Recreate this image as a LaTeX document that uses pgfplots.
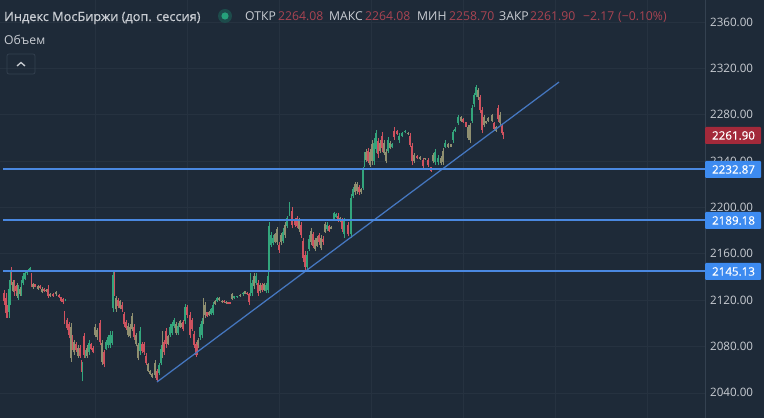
\documentclass[border=0pt]{standalone}
\usepackage{pgfplots}
\usepackage{pgfplotstable}
\usepackage{fontspec}
\pgfplotsset{compat=1.18}
\setmainfont{Open Sans}
\newfontfamily\boldish[FakeBold=0.5]{Open Sans}
\definecolor{bg}{HTML}{1E2A38}
\definecolor{gridc}{HTML}{263240}
\definecolor{axc}{HTML}{344150}
\definecolor{txt}{HTML}{C9CDD3}
\definecolor{redt}{HTML}{A94452}
\definecolor{upc}{HTML}{33A57C}
\definecolor{dnc}{HTML}{CF525F}
\definecolor{mixc}{HTML}{8F8F70}
\definecolor{hline}{HTML}{4A88E0}
\definecolor{trend}{HTML}{4577C0}
\definecolor{tagb}{HTML}{3D8BF0}
\definecolor{tagr}{HTML}{A3293A}
\definecolor{halo}{HTML}{1D4B4B}
\definecolor{dotc}{HTML}{26A17B}
\pgfplotstableread{
x h l o c
9 2137 2105 2110 2130
10.5 2146 2116 2120 2140
18.5 2133 2120 2123 2130
21.5 2137 2124 2127 2134
23 2143 2133 2135 2141
25 2144 2137 2138 2143
27 2146 2142 2143 2145
29 2148 2144 2145 2147
30 2149 2146 2147 2148
65.5 2121 2119 2119.5 2120.5
82.5 2067 2050 2053 2063
85.5 2077 2070 2071 2075
89 2086 2073 2075 2083
106 2086 2077 2078 2084
108 2090 2079 2081 2088
110 2093 2079 2081 2090
112 2093 2081 2083 2090
113 2146 2110 2113 2142
140 2097 2073 2076 2093
159 2066 2055 2057 2064
161 2081 2064 2066 2078
170 2099 2088 2090 2097
172 2101 2090 2092 2099
174 2105 2096 2098 2103
178 2100 2090 2092 2098
185 2117 2099 2102 2114
200 2099 2086 2088 2097
202 2105 2087 2090 2102
211 2113 2107 2108 2112
213 2118 2107 2109 2116
217 2123 2118 2119 2122
234 2124 2121 2122 2123.5
237 2124 2122 2122.5 2123.5
243 2127 2124 2125 2126.5
250.5 2143 2124 2127 2140
252 2137 2124 2126 2135
256 2143 2133 2135 2141
266 2135 2126 2128 2133
268 2144 2126 2129 2141
269 2187 2144 2146 2184
271 2179 2166 2168 2176
273 2176 2168 2169 2174
283 2182 2169 2171 2179
287 2193 2182 2184 2191
289.5 2205 2193 2195 2203
307 2162 2146 2149 2159
309 2176 2162 2164 2173
327 2187 2180 2181 2185
334 2196 2189 2190 2195
336 2195 2191 2192 2194
344 2191 2174 2177 2188
351 2212 2174 2177 2208
353 2218 2208 2210 2216
363 2235 2215 2217 2232
364.5 2248 2235 2237 2246
374 2260 2237 2240 2256
376 2267 2247 2250 2264
388 2261 2247 2249 2258
392 2256 2251 2252 2255
399 2264 2256 2258 2262
402 2265 2261 2262 2264
405 2267 2264 2265 2266
435 2250 2237 2239 2248
438 2245 2237 2239 2243
445 2258 2251 2252 2256
453 2267 2256 2258 2265
455 2269 2265 2266 2268
458 2280 2271 2273 2278
472 2288 2273 2275 2286
474 2299 2287 2289 2297
476 2306 2295 2297 2304
}\upcandles
\pgfplotstableread{
x h l o c
4 2129 2116 2126 2119
6 2126 2105 2122 2109
7.5 2116 2105 2114 2107
11.5 2149 2133 2146 2136
14.5 2137 2124 2135 2126
16 2133 2126 2132 2128
31.5 2143 2131 2141 2133
35 2134 2131 2133.5 2131.5
40 2133 2130 2132.5 2130.5
44 2130.5 2127 2130 2127.5
48 2133 2122 2130 2124
53 2126 2123 2125.5 2123.5
59 2125 2122 2124.5 2122.5
61 2123 2118.5 2122.5 2119
63 2122 2117 2121 2118
64.5 2111 2099 2109 2101
67 2105 2094 2103 2096
69 2101 2087 2099 2090
72.5 2090 2077 2088 2079
76 2084 2075 2082 2077
80 2081 2070 2079 2072
81.5 2068 2058 2066 2060
84 2092 2070 2089 2073
91 2083 2077 2082 2078
93 2080 2074 2079 2075
100 2103 2081 2100 2084
104 2077 2062 2075 2065
114.5 2144 2124 2141 2127
118 2122 2113 2120 2115
122 2118 2110 2116 2112
124 2110 2097 2108 2099
126 2103 2094 2101 2096
134 2099 2086 2097 2088
142 2084 2074 2082 2076
144 2084 2073 2082 2075
146 2074 2064 2072 2066
157 2061 2049 2059 2051
164 2086 2073 2084 2075
166 2096 2079 2093 2082
183 2103 2093 2101 2095
187 2116 2105 2114 2107
190 2110 2087 2107 2090
192 2105 2093 2103 2095
194 2093 2079 2091 2081
196 2084 2071 2082 2073
197 2081 2073 2079 2075
207 2110 2105.5 2109.5 2106
224 2120 2117.5 2119.5 2118
228 2118.5 2116.5 2118 2117
230 2118.5 2116.5 2118 2117
247 2127 2124.5 2126.5 2125
249 2126 2116 2125 2118
258 2137 2124 2135 2126
262 2135 2127 2133 2129
279 2170 2161 2168 2163
292 2200 2182 2197 2185
295 2191 2183 2190 2185
297 2193 2182 2191 2184
301 2187 2174 2185 2176
303 2174 2153 2171 2156
305 2162 2146 2159 2149
313 2179 2165 2177 2167
319 2178 2168 2176 2170
323 2175 2168 2173 2170
329 2185 2179 2184 2180
338 2195 2187 2193 2189
342 2191 2179 2189 2181
348 2187 2175 2185 2177
359 2219 2211 2218 2213
368 2251 2238 2249 2240
378 2260 2243 2257 2246
382 2265 2248 2262 2251
394 2269 2258 2266 2261
397 2267 2262.5 2266 2263
410 2264 2252 2262 2254
412 2256 2237 2253 2240
417 2245 2242 2244.5 2242.5
423 2243 2234 2241 2236
428 2243 2235 2241 2237
431 2235 2231 2234.5 2231.5
463 2277 2273 2276.5 2273.5
466 2274 2269 2273.5 2269.5
480 2297 2281.5 2295 2284
482 2287 2264 2284 2267
494 2274 2267 2273 2268
498 2288 2274 2286 2276
502 2271 2262.5 2270 2264
503.5 2265 2258.7 2264.08 2261.9
}\downcandles
\pgfplotstableread{
x h l o c
13 2137 2127 2128 2136
17 2135 2122 2124 2133
20 2131 2124 2125 2130
33 2135 2130 2131 2134
38 2133 2129 2130 2132
42 2131 2126 2127 2130
46 2130 2127 2128 2129
50 2126 2123 2124 2125
56 2128 2124 2125 2127
71 2100 2067 2070 2097
74 2086 2073 2075 2084
78 2081 2070 2072 2079
87 2081 2070 2072 2079
95 2099 2088 2090 2097
97 2096 2086 2088 2094
102 2086 2064 2067 2083
116 2124 2110 2112 2122
120 2120 2112 2113 2119
128 2100 2088 2090 2098
130 2099 2087 2089 2097
132 2109 2093 2095 2106
136 2092 2080 2082 2090
138 2083 2068 2070 2081
148 2066 2058 2059 2065
150 2060 2055.5 2056 2059
152 2057 2053 2054 2056
155 2068 2053 2055 2066
162.5 2093 2070 2073 2090
168 2090 2081 2082 2089
176 2101 2090 2092 2099
180 2103 2096 2097 2102
182 2101 2096 2097 2100
198 2087 2079 2080 2086
203.5 2122 2099 2102 2119
205 2118 2105 2107 2116
209 2111 2106 2107 2110
215 2120 2116 2117 2119
219 2123 2119 2120 2122
222 2120 2117.5 2118 2119.5
226 2119 2117 2117.5 2118.5
232 2126 2120 2121 2125
240 2125 2123 2123.5 2124.5
245 2128 2125 2125.5 2127.5
254 2143 2130 2132 2141
260 2135 2126 2128 2133
264 2135 2128 2129 2134
275 2178 2169 2170 2177
277 2183 2168 2170 2181
281 2178 2168 2170 2176
285 2187 2174 2176 2185
299 2191 2179 2181 2189
311 2182 2168 2170 2180
315 2174 2162 2164 2172
317 2175 2166 2167 2174
321 2176 2163 2165 2174
325 2187 2178 2179 2186
331 2184 2181 2181.5 2183.5
340 2192 2187 2188 2191
355 2222 2211 2213 2220
357 2222 2212 2214 2220
361 2217 2212 2213 2216
366 2250 2239 2241 2248
370 2250 2235 2237 2248
372 2258 2237 2240 2255
380 2258 2247 2249 2256
384 2258 2245 2247 2256
386 2250 2238 2240 2248
390 2257 2250 2251 2256
408 2265 2262.5 2263 2264.5
414 2247 2238 2240 2245
420 2244 2241 2241.5 2243.5
425 2243 2241 2241.5 2242.5
433 2247 2238 2240 2245
441 2244 2237 2238 2243
443 2251 2237 2239 2249
448 2256 2251 2252 2255
451 2255 2252 2252.5 2254.5
461 2279 2274 2275 2278
468 2271 2258 2260 2269
470 2273 2256 2258 2271
478 2303 2293 2295 2301
484 2280 2269 2271 2278
486 2275 2272 2272.5 2274.5
488 2278 2274 2275 2277
492 2281 2274 2275 2280
496 2270 2265 2266 2269
500 2282 2271 2273 2280
}\mixcandles
\newcommand{\candles}[2]{%
  \addplot[draw=none,mark=none,forget plot,error bars/.cd,y dir=plus,y explicit,error mark=none,
    error bar style={line width=0.8pt,draw=#2}]
    table[x=x,y=l,y error plus expr=\thisrow{h}-\thisrow{l}] {#1};
  \addplot[draw=none,mark=none,forget plot,error bars/.cd,y dir=plus,y explicit,error mark=none,
    error bar style={line width=1.6pt,draw=#2}]
    table[x=x,y expr={min(\thisrow{o},\thisrow{c})},y error plus expr={abs(\thisrow{c}-\thisrow{o})}] {#1};
}
\begin{document}
\begin{tikzpicture}[x=1pt,y=1pt]
\fill[bg] (0,0) rectangle (764,418);
\begin{axis}[
  at={(0,0)},anchor=south west,scale only axis,width=705pt,height=418pt,
  xmin=0,xmax=705,ymin=2018.3,ymax=2379,
  axis line style={draw=none},
  clip=true,clip mode=individual,
  major tick length=0pt,
  xtick={95,187,279,371,463,555,647},xticklabels={},
  ytick={2040,2080,2120,2160,2200,2240,2280,2320,2360},
  yticklabel pos=right,
  yticklabel={\pgfmathprintnumber[fixed,fixed zerofill,precision=2,1000 sep={},assume math mode=true]{\tick}},
  yticklabel style={font=\fontsize{11.6}{13}\selectfont,text=txt,anchor=west,xshift=5pt,inner sep=0pt},
  grid=major,grid style={gridc,line width=0.6pt},
  axis on top=false,
]
\candles{\mixcandles}{mixc}
\candles{\upcandles}{upc}
\candles{\downcandles}{dnc}
\addplot[trend,line width=1.25pt,forget plot] coordinates {(157,2049.4) (559,2308.2)};
\addplot[hline,line width=1.9pt,forget plot] coordinates {(3,2232.87) (705,2232.87)};
\addplot[hline,line width=1.9pt,forget plot] coordinates {(3,2189.18) (705,2189.18)};
\addplot[hline,line width=1.9pt,forget plot] coordinates {(3,2145.13) (705,2145.13)};
\draw[axc,line width=0.7pt] (axis cs:705,2018.3) -- (axis cs:705,2379);
\end{axis}
% price tags
\begin{scope}[every node/.style={inner sep=0pt,font=\fontsize{11.6}{13}\selectfont\boldish,text=white}]
\fill[tagr,rounded corners=1pt] (705,418-144) rectangle (761,418-127);
\node[anchor=center] at (733.5,418-135.5) {2261.90};
\fill[tagb,rounded corners=1pt] (705,418-178) rectangle (761,418-161);
\node[anchor=center] at (733.5,418-169.5) {2232.87};
\fill[tagb,rounded corners=1pt] (705,418-229) rectangle (761,418-212);
\node[anchor=center] at (733.5,418-220.5) {2189.18};
\fill[tagb,rounded corners=1pt] (705,418-280) rectangle (761,418-263);
\node[anchor=center] at (733.5,418-271.5) {2145.13};
\end{scope}
% header
\begin{scope}[every node/.style={inner sep=0pt,anchor=base west}]
\node[text=txt,font=\fontsize{12.75}{14}\selectfont\boldish] at (4,418-21) {Индекс МосБиржи (доп. сессия)};
\fill[halo] (225,418-16) circle (7);
\fill[dotc] (225,418-16) circle (3.6);
\def\hf{\fontsize{12.2}{14}\selectfont}
\node[text=txt,font=\hf] at (245,418-21) {ОТКР};
\node[text=redt,font=\hf] at (278,418-21) {2264.08};
\node[text=txt,font=\hf] at (329,418-21) {МАКС};
\node[text=redt,font=\hf] at (365,418-21) {2264.08};
\node[text=txt,font=\hf] at (417,418-21) {МИН};
\node[text=redt,font=\hf] at (449,418-21) {2258.70};
\node[text=txt,font=\hf] at (499,418-21) {ЗАКР};
\node[text=redt,font=\hf] at (530,418-21) {2261.90};
\node[text=redt,font=\hf] at (583,418-21) {−2.17};
\node[text=redt,font=\hf] at (618,418-21) {(−0.10\%)};
\node[text=txt,font=\hf] at (4,418-45) {Объем};
\end{scope}
% collapse button
\draw[axc,line width=0.7pt,rounded corners=2pt] (7,418-74) rectangle (35,418-54);
\draw[txt,line width=1.3pt] (17,418-66) -- (21,418-62.5) -- (25,418-66);
\pgfresetboundingbox
\path[use as bounding box] (0,0) rectangle (764,418);
\end{tikzpicture}
\end{document}
